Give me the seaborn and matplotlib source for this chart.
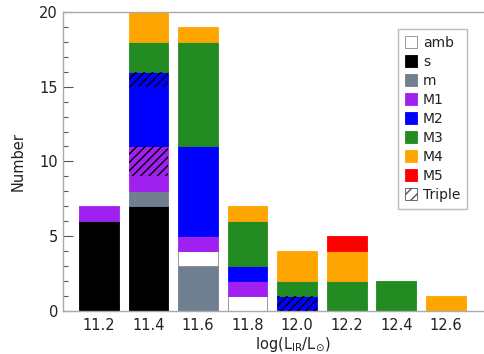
import matplotlib
matplotlib.use("Agg")
import matplotlib.pyplot as plt
import seaborn as sns
import pandas as pd
from matplotlib.patches import Patch

# ---- data ----
bins = [11.2, 11.4, 11.6, 11.8, 12.0, 12.2, 12.4, 12.6]
tick_labels = ["11.2", "11.4", "11.6", "11.8", "12.0", "12.2", "12.4", "12.6"]
# segments from bottom to top for each bin: category names ("*T" = triple, hatched)
seg_cats = [
    ["s", "M1"],
    ["s", "m", "M1", "M1T", "M2", "M2T", "M3", "M4"],
    ["m", "amb", "M1", "M2", "M3", "M4"],
    ["amb", "M1", "M2", "M3", "M4"],
    ["M2T", "M3", "M4"],
    ["M3", "M4", "M5"],
    ["M3"],
    ["M4"],
]
seg_counts = [
    [6, 1],
    [7, 1, 1, 2, 4, 1, 2, 2],
    [3, 1, 1, 6, 7, 1],
    [1, 1, 1, 3, 1],
    [1, 1, 2],
    [2, 2, 1],
    [2],
    [1],
]
legend_labels = ["amb", "s", "m", "M1", "M2", "M3", "M4", "M5", "Triple"]

colors = {"amb": "white", "s": "black", "m": "#708090", "M1": "#a020f0",
          "M2": "#0000ff", "M3": "#228b22", "M4": "#ffa500", "M5": "#ff0000"}

rows = []
for x, cats, cnts in zip(bins, seg_cats, seg_counts):
    bottom = 0
    for c, n in zip(cats, cnts):
        rows.append({"x": x, "cat": c.rstrip("T"), "triple": c.endswith("T"),
                     "n": n, "bottom": bottom})
        bottom += n
df = pd.DataFrame(rows)

sns.set_theme(style="white")
plt.rcParams["font.family"] = ["DejaVu Sans"]
plt.rcParams["hatch.linewidth"] = 1.0
plt.rcParams["hatch.color"] = "black"

fig = plt.figure(figsize=(4.84, 3.54), dpi=100)
ax = fig.add_axes([0.130, 0.1215, 0.95, 0.845])

for _, r in df.iterrows():
    fc = colors[r["cat"]]
    ec = "#888888" if r["cat"] == "amb" else fc
    ax.bar(r["x"], r["n"], bottom=r["bottom"], width=0.16, color=fc,
           edgecolor=ec, linewidth=0.6, zorder=2)
    if r["triple"]:
        ax.bar(r["x"], r["n"], bottom=r["bottom"], width=0.16, color="none",
               edgecolor="black", linewidth=0, hatch="////", zorder=3)

ax.set_xlim(11.055, 12.91)
ax.set_ylim(0, 20)
ax.set_xticks(bins)
ax.set_xticklabels(tick_labels)
ax.set_yticks([0, 5, 10, 15, 20])
ax.set_yticks(range(0, 21), minor=True)

txt = "#222222"
ax.tick_params(axis="both", which="both", direction="in", colors="#555555",
               labelcolor=txt, labelsize=10.5)
ax.tick_params(axis="y", which="major", length=7, width=0.8, left=True)
ax.tick_params(axis="y", which="minor", length=3.5, width=0.8, left=True)
ax.tick_params(axis="x", which="major", length=5, width=0.8, bottom=True, pad=5)
ax.tick_params(axis="x", which="minor", bottom=False)

for s in ["left", "bottom", "top"]:
    ax.spines[s].set_color("#aaaaaa")
    ax.spines[s].set_linewidth(1.0)
ax.spines["right"].set_visible(False)

ax.set_ylabel("Number", fontsize=10.5, color=txt, labelpad=10)
ax.set_xlabel(r"log(L$_{\rm IR}$/L$_{\odot}$)", fontsize=10.5, color=txt, labelpad=2)

handles = []
for lab in legend_labels:
    if lab == "Triple":
        handles.append(Patch(facecolor="white", edgecolor="#555555", hatch="///",
                             linewidth=0.6, label=lab))
    elif lab == "amb":
        handles.append(Patch(facecolor="white", edgecolor="#888888",
                             linewidth=0.6, label=lab))
    else:
        handles.append(Patch(facecolor=colors[lab], edgecolor=colors[lab],
                             linewidth=0.6, label=lab))
leg = fig.legend(handles=handles, loc="upper left", bbox_to_anchor=(0.822, 0.918),
                 fontsize=10, frameon=True, fancybox=False, handlelength=0.9,
                 handleheight=0.9, handletextpad=0.4, labelspacing=0.36,
                 borderpad=0.5, borderaxespad=0)
leg.get_frame().set_edgecolor("#aaaaaa")
leg.get_frame().set_linewidth(1.0)
for t in leg.get_texts():
    t.set_color(txt)

fig.savefig("out.png", dpi=100)
